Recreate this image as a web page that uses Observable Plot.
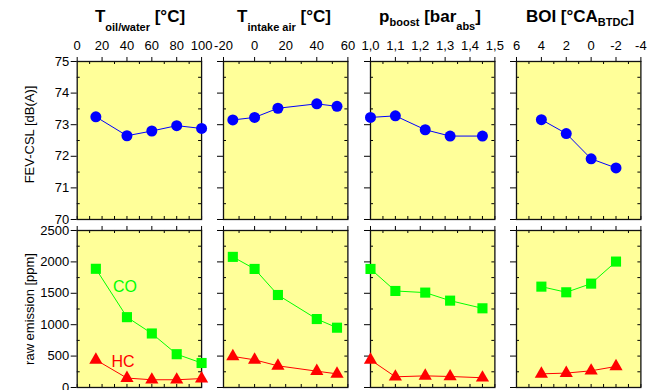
<!DOCTYPE html>
<html>
<head>
<meta charset="utf-8">
<script src="https://cdn.jsdelivr.net/npm/d3@7"></script>
<script src="https://cdn.jsdelivr.net/npm/@observablehq/plot@0.6"></script>
<style>
  html, body { margin: 0; padding: 0; background: #fff; overflow: hidden; }
  #chart { position: relative; width: 659px; height: 390px; font-family: "Liberation Sans", Arial, sans-serif; }
  .hdr { position: absolute; top: 8px; transform: translateX(-50%); font: bold 17px "Liberation Sans", Arial, sans-serif; white-space: nowrap; line-height: 1; color: #000; }
  .hdr .s { font-size: 11px; position: relative; }
  .pn { position: absolute; }
</style>
</head>
<body>
<div id="chart"></div>
<script>
// ---------- data ----------
const oilX = [15, 40, 60, 80, 100];
const oilFEV = [73.25, 72.65, 72.8, 72.97, 72.88];
const oilCO = [1890, 1120, 860, 530, 390];
const oilHC = [440, 150, 123, 123, 142];

const intakeX = [-14, 0, 15, 40, 53];
const intakeFEV = [73.15, 73.23, 73.52, 73.66, 73.58];
const intakeCO = [2080, 1888, 1473, 1090, 952];
const intakeHC = [495, 440, 345, 260, 217];

const boostX = [1.0, 1.1, 1.22, 1.32, 1.45];
const boostFEV = [73.23, 73.28, 72.84, 72.64, 72.64];
const boostCO = [1888, 1537, 1511, 1383, 1261];
const boostHC = [440, 170, 185, 175, 155];

const boiX = [4, 2, 0, -2];
const boiFEV = [73.16, 72.72, 71.92, 71.63];
const boiCO = [1606, 1516, 1654, 2005];
const boiHC = [217, 229, 266, 335];

// ticks
const oilTicks = [0, 20, 40, 60, 80, 100];
const oilMinor = [10, 30, 50, 70, 90];
const intakeTicks = [-20, 0, 20, 40, 60];
const intakeMinor = [-10, 10, 30, 50];
const boostTicks = [1.0, 1.1, 1.2, 1.3, 1.4, 1.5];
const boostMinor = [1.05, 1.15, 1.25, 1.35, 1.45];
const boiTicks = [6, 4, 2, 0, -2, -4];
const boiMinor = [5, 3, 1, -1, -3];
const fevTicks = [70, 71, 72, 73, 74, 75];
const fevMinor = [70.5, 71.5, 72.5, 73.5, 74.5];
const emTicks = [0, 500, 1000, 1500, 2000, 2500];
const emMinor = [250, 750, 1250, 1750, 2250];

const fevLabel = "FEV-CSL [dB(A)]";
const emLabel = "raw emission [ppm]";

// ---------- layout ----------
const colLeft = [76.7, 223.3, 370, 516];
const frameW = 124.4;
const rowTop = [61, 230];
const rowH = [158, 157];

const YELLOW = "#ffff99";
const BLUE = "#0000ff";
const GREEN = "#00ff00";
const RED = "#ff0000";

const cols = [
  {x: oilX, fev: oilFEV, co: oilCO, hc: oilHC, domain: [0, 100], ticks: oilTicks, minor: oilMinor, fmt: d => String(d)},
  {x: intakeX, fev: intakeFEV, co: intakeCO, hc: intakeHC, domain: [-20, 60], ticks: intakeTicks, minor: intakeMinor, fmt: d => String(d)},
  {x: boostX, fev: boostFEV, co: boostCO, hc: boostHC, domain: [1.0, 1.5], ticks: boostTicks, minor: boostMinor, fmt: d => d.toFixed(1).replace(".", ",")},
  {x: boiX, fev: boiFEV, co: boiCO, hc: boiHC, domain: [6, -4], ticks: boiTicks, minor: boiMinor, fmt: d => String(d)}
];

const headers = [
  {cx: 140, html: 'T<span class="s" style="top:9px">oil/water</span> [°C]'},
  {cx: 284, html: 'T<span class="s" style="top:9px">intake air</span> [°C]'},
  {cx: 430, html: 'p<span class="s" style="top:4px">boost</span> [bar<span class="s" style="top:8px">abs</span>]'},
  {cx: 580, html: 'BOI [°CA<span class="s" style="top:4px">BTDC</span>]'}
];

const chart = document.getElementById("chart");

headers.forEach(h => {
  const d = document.createElement("div");
  d.className = "hdr";
  d.style.left = h.cx + "px";
  d.innerHTML = h.html;
  chart.appendChild(d);
});

function rows(xs, vs) { return xs.map((x, i) => ({x, v: vs[i]})); }

function panel(row, c) {
  const col = cols[c];
  const isTop = row === 0;
  const mL = c === 0 ? colLeft[0] : 20;
  const mR = 12;
  const mT = isTop ? 31 : 15;
  const mB = 12;
  const fH = rowH[row];
  const W = mL + frameW + mR;
  const H = mT + fH + mB;
  const yTicks = isTop ? fevTicks : emTicks;
  const yMinor = isTop ? fevMinor : emMinor;
  const yDomain = isTop ? [70, 75] : [0, 2500];

  const marks = [
    Plot.frame({fill: YELLOW, stroke: null}),
    // top axis: outward majors
    Plot.axisX({anchor: "top", ticks: col.ticks, tickSize: 5, tickPadding: 6, label: null,
      tickFormat: isTop ? col.fmt : () => "", fontSize: 13, stroke: "#000"}),
    // left axis: outward majors
    Plot.axisY({anchor: "left", ticks: yTicks, tickSize: 6, tickPadding: 2,
      tickFormat: c === 0 ? (d => String(d)) : () => "", fontSize: 13, label: null}),
    // inward minor ticks top & bottom
    Plot.tickX(col.minor, {x: d => d, stroke: "#000", insetBottom: fH - 3}),
    Plot.tickX(col.ticks.concat(col.minor), {x: d => d, stroke: "#000", insetTop: fH - 3}),
    // inward minor ticks left, inward ticks right
    Plot.tickY(yMinor, {y: d => d, stroke: "#000", insetRight: frameW - 3}),
    Plot.tickY(yTicks.concat(yMinor), {y: d => d, stroke: "#000", insetLeft: frameW - 3}),
    Plot.frame({stroke: "#111", strokeWidth: 1.3})
  ];

  if (c === 0) {
    marks.push(Plot.text([isTop ? fevLabel : emLabel], {
      frameAnchor: "left", textAnchor: "middle", lineAnchor: "middle",
      text: d => d, rotate: -90, dx: -47, dy: isTop ? -6 : 0,
      fontSize: 13, fill: "#000"
    }));
  }

  if (isTop) {
    const d = rows(col.x, col.fev);
    marks.push(
      Plot.line(d, {x: "x", y: "v", stroke: BLUE, strokeWidth: 1}),
      Plot.dot(d, {x: "x", y: "v", r: 5.5, fill: BLUE, stroke: null})
    );
  } else {
    const co = rows(col.x, col.co);
    const hc = rows(col.x, col.hc);
    marks.push(
      Plot.line(co, {x: "x", y: "v", stroke: GREEN, strokeWidth: 1}),
      Plot.dot(co, {x: "x", y: "v", r: 5.7, symbol: "square", fill: GREEN, stroke: null}),
      Plot.line(hc, {x: "x", y: "v", stroke: RED, strokeWidth: 1}),
      Plot.dot(hc, {x: "x", y: "v", r: 4.9, symbol: "triangle", fill: RED, stroke: null})
    );
    if (c === 0) {
      marks.push(
        Plot.text(["CO"], {x: () => col.x[1], y: () => col.co[1], text: d => d, dx: -2, dy: -30, fill: GREEN, fontSize: 16}),
        Plot.text(["HC"], {x: () => col.x[1], y: () => col.hc[1], text: d => d, dx: -4, dy: -16, fill: RED, fontSize: 16})
      );
    }
  }

  const svg = Plot.plot({
    width: W, height: H,
    marginLeft: mL, marginRight: mR, marginTop: mT, marginBottom: mB,
    x: {domain: col.domain},
    y: {domain: yDomain},
    style: {background: "transparent", fontFamily: "'Liberation Sans', Arial, sans-serif", fontSize: "13px", color: "#000", overflow: "visible"},
    marks
  });
  const wrap = document.createElement("div");
  wrap.className = "pn";
  wrap.style.left = (colLeft[c] - mL) + "px";
  wrap.style.top = (rowTop[row] - mT) + "px";
  wrap.appendChild(svg);
  chart.appendChild(wrap);
}

for (let r = 0; r < 2; r++) for (let c = 0; c < 4; c++) panel(r, c);
</script>
</body>
</html>
